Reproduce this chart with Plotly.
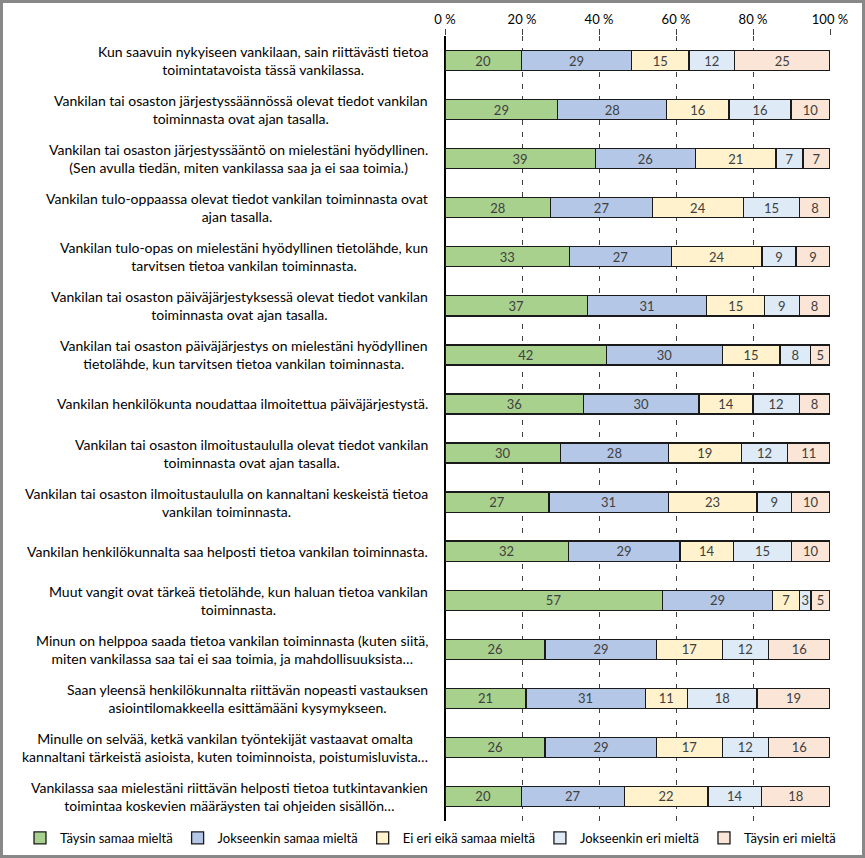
import plotly.graph_objects as go

questions = [
    "Kun saavuin nykyiseen vankilaan, sain riittävästi tietoa<br>toimintatavoista tässä vankilassa.",
    "Vankilan tai osaston järjestyssäännössä olevat tiedot vankilan<br>toiminnasta ovat ajan tasalla.",
    "Vankilan tai osaston järjestyssääntö on mielestäni hyödyllinen.<br>(Sen avulla tiedän, miten vankilassa saa ja ei saa toimia.)",
    "Vankilan tulo-oppaassa olevat tiedot vankilan toiminnasta ovat<br>ajan tasalla.",
    "Vankilan tulo-opas on mielestäni hyödyllinen tietolähde, kun<br>tarvitsen tietoa vankilan toiminnasta.",
    "Vankilan tai osaston päiväjärjestyksessä olevat tiedot vankilan<br>toiminnasta ovat ajan tasalla.",
    "Vankilan tai osaston päiväjärjestys on mielestäni hyödyllinen<br>tietolähde, kun tarvitsen tietoa vankilan toiminnasta.",
    "Vankilan henkilökunta noudattaa ilmoitettua päiväjärjestystä.",
    "Vankilan tai osaston ilmoitustaululla olevat tiedot vankilan<br>toiminnasta ovat ajan tasalla.",
    "Vankilan tai osaston ilmoitustaululla on kannaltani keskeistä tietoa<br>vankilan toiminnasta.",
    "Vankilan henkilökunnalta saa helposti tietoa vankilan toiminnasta.",
    "Muut vangit ovat tärkeä tietolähde, kun haluan tietoa vankilan<br>toiminnasta.",
    "Minun on helppoa saada tietoa vankilan toiminnasta (kuten siitä,<br>miten vankilassa saa tai ei saa toimia, ja mahdollisuuksista…",
    "Saan yleensä henkilökunnalta riittävän nopeasti vastauksen<br>asiointilomakkeella esittämääni kysymykseen.",
    "Minulle on selvää, ketkä vankilan työntekijät vastaavat omalta<br>kannaltani tärkeistä asioista, kuten toiminnoista, poistumisluvista…",
    "Vankilassa saa mielestäni riittävän helposti tietoa tutkintavankien<br>toimintaa koskevien määräysten tai ohjeiden sisällön…",
]

series_names = [
    "Täysin samaa mieltä",
    "Jokseenkin samaa mieltä",
    "Ei eri eikä samaa mieltä",
    "Jokseenkin eri mieltä",
    "Täysin eri mieltä",
]

taysin_samaa = [20, 29, 39, 28, 33, 37, 42, 36, 30, 27, 32, 57, 26, 21, 26, 20]
jokseenkin_samaa = [29, 28, 26, 27, 27, 31, 30, 30, 28, 31, 29, 29, 29, 31, 29, 27]
ei_eri_eika_samaa = [15, 16, 21, 24, 24, 15, 15, 14, 19, 23, 14, 7, 17, 11, 17, 22]
jokseenkin_eri = [12, 16, 7, 15, 9, 9, 8, 12, 12, 9, 15, 3, 12, 18, 12, 14]
taysin_eri = [25, 10, 7, 8, 9, 8, 5, 8, 11, 10, 10, 5, 16, 19, 16, 18]

series_values = [taysin_samaa, jokseenkin_samaa, ei_eri_eika_samaa, jokseenkin_eri, taysin_eri]
colors = ["#A9D18E", "#B4C7E7", "#FFF2CC", "#DEEBF7", "#FBE5D6"]

tick_values = [0, 20, 40, 60, 80, 100]
tick_labels = ["0 %", "20 %", "40 %", "60 %", "80 %", "100 %"]

FONT = "Lato"
W, H = 865, 858
ML, MR, MT, MB = 445, 35, 36, 37
pw = W - ML - MR
ph = H - MT - MB

fig = go.Figure()
for name, vals, col in zip(series_names, series_values, colors):
    fig.add_trace(go.Bar(
        y=questions, x=vals, name=name, orientation="h",
        marker=dict(color=col, line=dict(color="#1a1a1a", width=1.3)),
        text=vals, texttemplate="%{text}", textposition="inside",
        insidetextanchor="middle", textangle=0,
        textfont=dict(family=FONT, size=13, color="#404040"),
    ))

for q in questions:
    fig.add_annotation(
        x=(430 - ML) / pw, xref="paper", y=q, yref="y",
        text=q, showarrow=False, xanchor="right", align="center",
        font=dict(family=FONT, size=14, color="#000000"),
    )

fig.add_shape(
    type="rect", xref="paper", yref="paper",
    x0=(-ML + 1.5) / pw, x1=1 + (MR - 1.5) / pw,
    y0=(-MB + 1.5) / ph, y1=1 + (MT - 1.5) / ph,
    line=dict(color="#888888", width=3), fillcolor="rgba(0,0,0,0)", layer="above",
)

fig.update_layout(
    width=W, height=H,
    margin=dict(l=ML, r=MR, t=MT, b=MB, pad=0, autoexpand=False),
    barmode="stack", barnorm="percent", bargap=0.59,
    plot_bgcolor="white", paper_bgcolor="white",
    uniformtext=dict(minsize=13, mode="show"),
    font=dict(family=FONT, size=13, color="#000000"),
    showlegend=True,
    legend=dict(
        orientation="h", xref="paper", yref="paper",
        x=(20 - ML) / pw, y=-(838 - (H - MB)) / ph, xanchor="left", yanchor="middle",
        font=dict(family=FONT, size=13, color="#000000"),
        traceorder="normal", itemwidth=30,
        bgcolor="rgba(0,0,0,0)",
    ),
    xaxis=dict(
        side="top", range=[0, 100], tickvals=tick_values, ticktext=tick_labels,
        showgrid=True, gridcolor="#404040", gridwidth=1, griddash="5px,7px",
        zeroline=True, zerolinecolor="#000000", zerolinewidth=1,
        ticks="outside", ticklen=6, tickcolor="#404040", tickwidth=1,
        tickfont=dict(family=FONT, size=13, color="#000000"),
        fixedrange=True,
    ),
    yaxis=dict(
        autorange="reversed", showticklabels=False, ticks="",
        showline=True, linecolor="#000000", linewidth=1, showgrid=False,
        fixedrange=True,
    ),
)

fig.write_html(
    "out.html",
    config={"displayModeBar": False},
    post_script=(
        "document.body.style.margin='0';"
        "document.body.style.overflow='hidden';"
        "document.documentElement.style.overflow='hidden';"
    ),
)
